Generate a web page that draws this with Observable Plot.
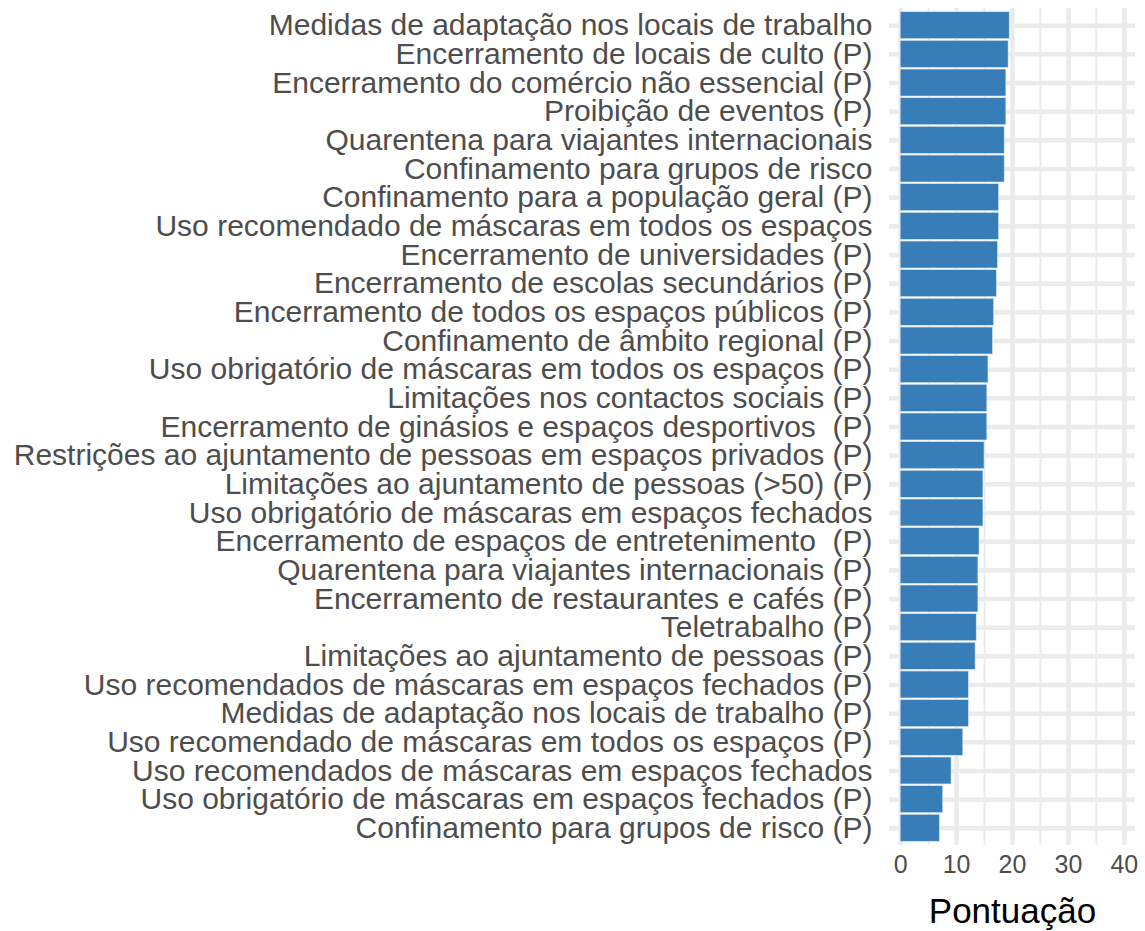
<!DOCTYPE html>
<html>
<head>
<meta charset="utf-8">
<script src="https://cdn.jsdelivr.net/npm/d3@7"></script>
<script src="https://cdn.jsdelivr.net/npm/@observablehq/plot@0.6"></script>
<style>
  html, body { margin: 0; padding: 0; background: #fff; }
  #chart svg { white-space: pre; }
</style>
</head>
<body>
<div id="chart"></div>
<script>
const medidas = [
  "Medidas de adaptação nos locais de trabalho",
  "Encerramento de locais de culto (P)",
  "Encerramento do comércio não essencial (P)",
  "Proibição de eventos (P)",
  "Quarentena para viajantes internacionais",
  "Confinamento para grupos de risco",
  "Confinamento para a população geral (P)",
  "Uso recomendado de máscaras em todos os espaços",
  "Encerramento de universidades (P)",
  "Encerramento de escolas secundários (P)",
  "Encerramento de todos os espaços públicos (P)",
  "Confinamento de âmbito regional (P)",
  "Uso obrigatório de máscaras em todos os espaços (P)",
  "Limitações nos contactos sociais (P)",
  "Encerramento de ginásios e espaços desportivos  (P)",
  "Restrições ao ajuntamento de pessoas em espaços privados (P)",
  "Limitações ao ajuntamento de pessoas (>50) (P)",
  "Uso obrigatório de máscaras em espaços fechados",
  "Encerramento de espaços de entretenimento  (P)",
  "Quarentena para viajantes internacionais (P)",
  "Encerramento de restaurantes e cafés (P)",
  "Teletrabalho (P)",
  "Limitações ao ajuntamento de pessoas (P)",
  "Uso recomendados de máscaras em espaços fechados (P)",
  "Medidas de adaptação nos locais de trabalho (P)",
  "Uso recomendado de máscaras em todos os espaços (P)",
  "Uso recomendados de máscaras em espaços fechados",
  "Uso obrigatório de máscaras em espaços fechados (P)",
  "Confinamento para grupos de risco (P)"
];
const pontuacao = [19.5, 19.3, 18.9, 18.9, 18.6, 18.6, 17.6, 17.6, 17.4, 17.2,
  16.7, 16.5, 15.7, 15.5, 15.5, 15.0, 14.8, 14.8, 14.1, 13.9,
  13.9, 13.6, 13.4, 12.2, 12.2, 11.2, 9.1, 7.6, 7.0];
const majorTicks = [0, 10, 20, 30, 40];
const minorTicks = [5, 15, 25, 35];
const xTitle = "Pontuação";

const data = medidas.map((m, i) => ({medida: m, valor: pontuacao[i]}));
const grid = "#ebebeb";

const chart = Plot.plot({
  width: 1145,
  height: 931,
  marginLeft: 889,
  marginRight: 10,
  marginTop: 8,
  marginBottom: 86,
  style: {fontFamily: "'Liberation Sans', Arial, sans-serif", background: "#fff"},
  x: {domain: [-2, 42], ticks: majorTicks, label: null},
  y: {domain: medidas, paddingInner: 0.06, paddingOuter: 0.13, round: false, label: null},
  marks: [
    Plot.ruleX(minorTicks, {stroke: grid, strokeWidth: 2}),
    Plot.ruleX(majorTicks, {stroke: grid, strokeWidth: 4.5}),
    Plot.ruleY(medidas, {y: d => d, stroke: grid, strokeWidth: 4.5}),
    Plot.barX(data, {x1: 0, x2: "valor", y: "medida", fill: "#377eb8", stroke: "#d6e4f0", strokeWidth: 0.6}),
    Plot.axisX(majorTicks, {tickSize: 0, tickPadding: 10, fontSize: 25, fill: "#4d4d4d", label: null}),
    Plot.axisY({tickSize: 0, tickPadding: 17, fontSize: 30, fill: "#4d4d4d", label: null}),
    Plot.text([xTitle], {frameAnchor: "bottom", dy: 66, lineAnchor: "middle", fontSize: 35, fill: "#000"})
  ]
});
document.getElementById("chart").appendChild(chart);
</script>
</body>
</html>
